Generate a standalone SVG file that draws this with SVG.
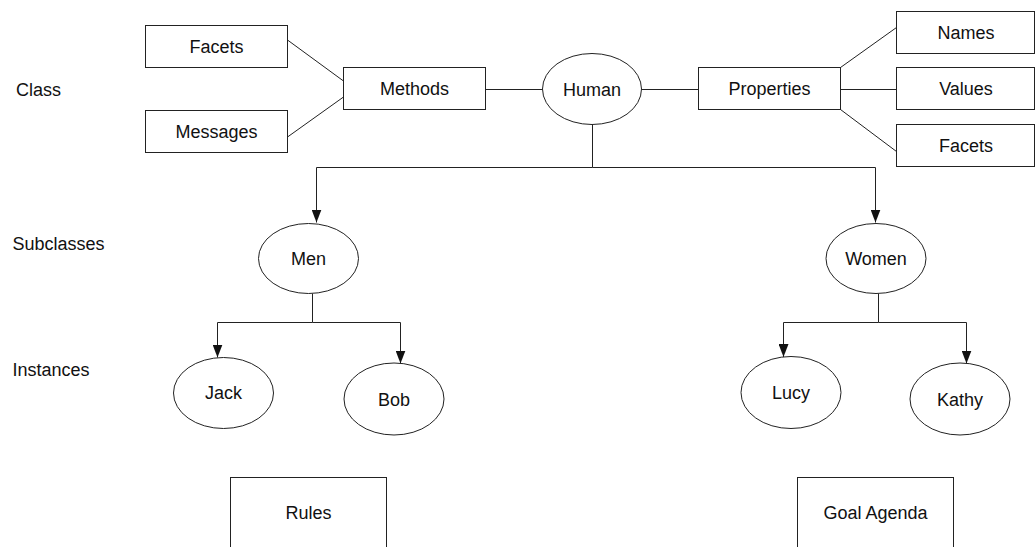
<svg xmlns="http://www.w3.org/2000/svg" width="1035" height="547" viewBox="0 0 1035 547">
<defs>
<style>
.box{fill:#fff;stroke:#222;stroke-width:1}
.ell{fill:#fff;stroke:#222;stroke-width:1}
.lbl{font-family:"Liberation Sans",Arial,sans-serif;font-size:18px;fill:#111;text-anchor:middle}
.side{font-family:"Liberation Sans",Arial,sans-serif;font-size:18px;fill:#111}
.ln{fill:none;stroke:#222;stroke-width:1}
.arr{fill:none;stroke:#222;stroke-width:1;marker-end:url(#ah)}
</style>
<marker id="ah" markerUnits="userSpaceOnUse" markerWidth="13" markerHeight="10" refX="13" refY="5" orient="auto">
<path d="M0,0 L13,5 L0,10 z" fill="#111"/>
</marker>
</defs>
<rect width="1035" height="547" fill="#fff"/>
<g id="side-labels">
<text class="side" x="16" y="96">Class</text>
<text class="side" x="12.5" y="250">Subclasses</text>
<text class="side" x="12.5" y="375.5">Instances</text>
</g>
<g id="connectors">
<line class="ln" x1="287.5" y1="40" x2="343.5" y2="81"/>
<line class="ln" x1="287.5" y1="137" x2="343.5" y2="97"/>
<line class="ln" x1="485.5" y1="89.5" x2="542.5" y2="89.5"/>
<line class="ln" x1="641.5" y1="89.5" x2="698.5" y2="89.5"/>
<line class="ln" x1="840.5" y1="67.5" x2="896.5" y2="27.5"/>
<line class="ln" x1="840.5" y1="89.5" x2="896.5" y2="89.5"/>
<line class="ln" x1="840.5" y1="109.5" x2="896.5" y2="151.5"/>
<line class="ln" x1="592.5" y1="124.5" x2="592.5" y2="167.5"/>
<polyline class="arr" points="592.5,167.5 316.5,167.5 316.5,222.5"/>
<polyline class="arr" points="592.5,167.5 875.5,167.5 875.5,222.5"/>
<line class="ln" x1="312.5" y1="293.5" x2="312.5" y2="322.5"/>
<polyline class="arr" points="312.5,322.5 217.5,322.5 217.5,357.5"/>
<polyline class="arr" points="312.5,322.5 400.5,322.5 400.5,363.5"/>
<line class="ln" x1="878.5" y1="293.5" x2="878.5" y2="322.5"/>
<polyline class="arr" points="878.5,322.5 783.5,322.5 783.5,357"/>
<polyline class="arr" points="878.5,322.5 966.5,322.5 966.5,363.5"/>
</g>
<g id="facets-left"><rect class="box" x="145.5" y="25.5" width="142" height="42"/><text class="lbl" x="216.5" y="53">Facets</text></g>
<g id="messages"><rect class="box" x="145.5" y="110.5" width="142" height="42"/><text class="lbl" x="216.5" y="138">Messages</text></g>
<g id="methods"><rect class="box" x="343.5" y="67.5" width="142" height="42"/><text class="lbl" x="414.5" y="95">Methods</text></g>
<g id="human"><ellipse class="ell" cx="592" cy="89" rx="49.5" ry="35.5"/><text class="lbl" x="592" y="95.5">Human</text></g>
<g id="properties"><rect class="box" x="698.5" y="67.5" width="142" height="42"/><text class="lbl" x="769.5" y="95">Properties</text></g>
<g id="names"><rect class="box" x="896.5" y="11.5" width="138" height="42"/><text class="lbl" x="966" y="39">Names</text></g>
<g id="values"><rect class="box" x="896.5" y="67.5" width="138" height="42"/><text class="lbl" x="966" y="95">Values</text></g>
<g id="facets-right"><rect class="box" x="896.5" y="124.5" width="138" height="42"/><text class="lbl" x="966" y="152">Facets</text></g>
<g id="men"><ellipse class="ell" cx="308.5" cy="258.5" rx="50" ry="35"/><text class="lbl" x="308.5" y="265">Men</text></g>
<g id="women"><ellipse class="ell" cx="876" cy="258.5" rx="50" ry="35"/><text class="lbl" x="876" y="265">Women</text></g>
<g id="jack"><ellipse class="ell" cx="223.5" cy="393" rx="50" ry="35.5"/><text class="lbl" x="223.5" y="399">Jack</text></g>
<g id="bob"><ellipse class="ell" cx="394" cy="399" rx="50" ry="36"/><text class="lbl" x="394" y="405.5">Bob</text></g>
<g id="lucy"><ellipse class="ell" cx="791" cy="392.5" rx="50" ry="36"/><text class="lbl" x="791" y="399">Lucy</text></g>
<g id="kathy"><ellipse class="ell" cx="960" cy="399" rx="50" ry="36"/><text class="lbl" x="960" y="405.5">Kathy</text></g>
<g id="rules"><rect class="box" x="230.5" y="477.5" width="156" height="80"/><text class="lbl" x="308.5" y="519">Rules</text></g>
<g id="goal-agenda"><rect class="box" x="797.5" y="477.5" width="156" height="80"/><text class="lbl" x="875.5" y="519">Goal Agenda</text></g>
</svg>
